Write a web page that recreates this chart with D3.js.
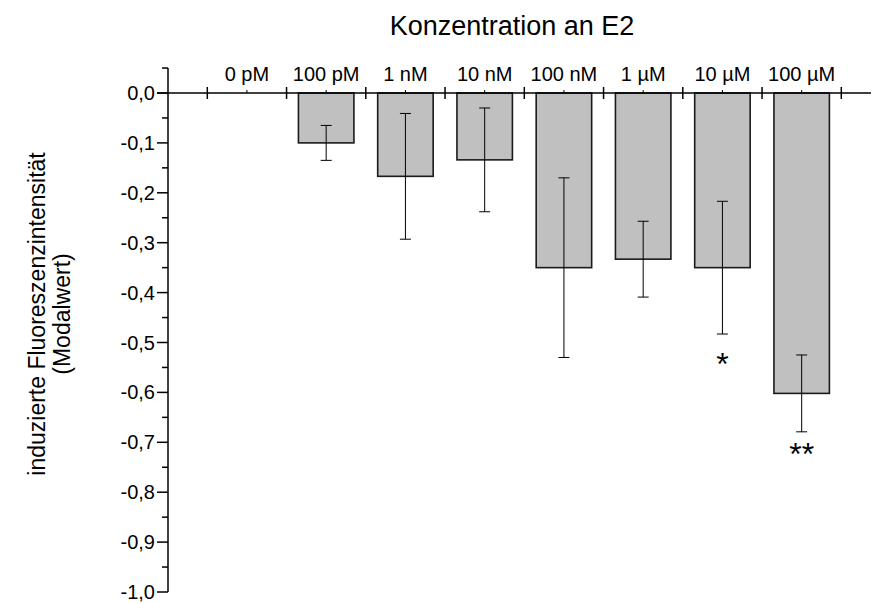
<!DOCTYPE html>
<html>
<head>
<meta charset="utf-8">
<script src="https://cdn.jsdelivr.net/npm/d3@7"></script>
<style>
	body { margin: 0; background: #fff; }
	svg text { font-family: "Liberation Sans", Arial, sans-serif; fill: #000; }
</style>
</head>
<body>
<svg id="chart" width="872" height="603"></svg>
<script>
;( function() {

	"use strict";

	//data
	var categories = [ "0 pM", "100 pM", "1 nM", "10 nM", "100 nM", "1 µM", "10 µM", "100 µM" ],
		means = [ 0, -0.100, -0.167, -0.134, -0.350, -0.333, -0.350, -0.602 ],
		errors = [ 0, 0.035, 0.126, 0.104, 0.180, 0.076, 0.133, 0.077 ],
		significance = [ "", "", "", "", "", "", "*", "**" ],
		significanceAt = [ 0, 0, 0, 0, 0, 0, -0.528, -0.709 ],
		yTickValues = [ 0, -0.1, -0.2, -0.3, -0.4, -0.5, -0.6, -0.7, -0.8, -0.9, -1.0 ],
		yMinorValues = [ 0.05, -0.05, -0.15, -0.25, -0.35, -0.45, -0.55, -0.65, -0.75, -0.85, -0.95 ];

	var title = "Konzentration an E2",
		yLabel = [ "induzierte Fluoreszenzintensität", "(Modalwert)" ];

	var svg = d3.select( "#chart" ),
		axisX = 168,
		fmt = function( d ) { return d3.format( ".1f" )( d ).replace( ".", "," ).replace( "−", "-" ); };

	var x = d3.scaleBand()
		.domain( categories )
		.range( [ 207.3, 841.3 ] )
		.paddingInner( 0.3 )
		.paddingOuter( 0.15 );

	var y = d3.scaleLinear()
		.domain( [ 0, -1 ] )
		.range( [ 93, 592 ] );

	var step = x.step(),
		x0 = x.range()[ 0 ];

	//bars
	var data = categories.map( function( c, i ) {
		return { cat: c, mean: means[ i ], err: errors[ i ], sig: significance[ i ], sigAt: significanceAt[ i ] };
	} ).filter( function( d ) { return d.mean !== 0; } );

	svg.append( "g" ).selectAll( "rect" ).data( data ).enter()
		.append( "rect" )
			.attr( "x", function( d ) { return x( d.cat ); } )
			.attr( "y", y( 0 ) )
			.attr( "width", x.bandwidth() )
			.attr( "height", function( d ) { return y( d.mean ) - y( 0 ); } )
			.style( "fill", "#c0c0c0" )
			.style( "stroke", "#1a1a1a" )
			.style( "stroke-width", 1.6 );

	//error bars
	var eb = svg.append( "g" ).selectAll( "g" ).data( data ).enter()
		.append( "g" )
			.attr( "transform", function( d ) { return "translate(" + ( x( d.cat ) + x.bandwidth() / 2 ) + ",0)"; } )
			.style( "stroke", "#000" )
			.style( "stroke-width", 1 );
	eb.append( "line" )
		.attr( "x1", 0 ).attr( "x2", 0 )
		.attr( "y1", function( d ) { return y( d.mean + d.err ); } )
		.attr( "y2", function( d ) { return y( d.mean - d.err ); } );
	eb.append( "line" )
		.attr( "x1", -5.5 ).attr( "x2", 5.5 )
		.attr( "y1", function( d ) { return y( d.mean + d.err ); } )
		.attr( "y2", function( d ) { return y( d.mean + d.err ); } );
	eb.append( "line" )
		.attr( "x1", -5.5 ).attr( "x2", 5.5 )
		.attr( "y1", function( d ) { return y( d.mean - d.err ); } )
		.attr( "y2", function( d ) { return y( d.mean - d.err ); } );

	//significance stars (asterisk centre sits ~0.58em above baseline)
	svg.append( "g" ).selectAll( "text" ).data( data.filter( function( d ) { return d.sig; } ) ).enter()
		.append( "text" )
			.attr( "x", function( d ) { return x( d.cat ) + x.bandwidth() / 2; } )
			.attr( "y", function( d ) { return y( d.sigAt ); } )
			.attr( "dy", "0.58em" )
			.attr( "text-anchor", "middle" )
			.style( "font-size", "32px" )
			.text( function( d ) { return d.sig; } );

	//x axis (top, at zero)
	var gx = svg.append( "g" ).style( "stroke", "#000" );
	gx.append( "line" )
		.attr( "x1", axisX - 11 ).attr( "x2", 871 )
		.attr( "y1", y( 0 ) ).attr( "y2", y( 0 ) )
		.style( "stroke-width", 1.5 );
	gx.selectAll( ".major" ).data( d3.range( categories.length + 1 ) ).enter()
		.append( "line" )
			.attr( "class", "major" )
			.attr( "x1", function( i ) { return x0 + i * step; } )
			.attr( "x2", function( i ) { return x0 + i * step; } )
			.attr( "y1", y( 0 ) - 6 ).attr( "y2", y( 0 ) + 6 )
			.style( "stroke-width", 1.5 );
	gx.selectAll( ".minor" ).data( categories ).enter()
		.append( "line" )
			.attr( "class", "minor" )
			.attr( "x1", function( d ) { return x( d ) + x.bandwidth() / 2; } )
			.attr( "x2", function( d ) { return x( d ) + x.bandwidth() / 2; } )
			.attr( "y1", y( 0 ) - 3 ).attr( "y2", y( 0 ) )
			.style( "stroke-width", 1 );
	svg.append( "g" ).selectAll( "text" ).data( categories ).enter()
		.append( "text" )
			.attr( "x", function( d ) { return x( d ) + x.bandwidth() / 2; } )
			.attr( "y", 81 )
			.attr( "text-anchor", "middle" )
			.style( "font-size", "20px" )
			.text( function( d ) { return d; } );

	//y axis
	var gy = svg.append( "g" ).style( "stroke", "#000" );
	gy.append( "line" )
		.attr( "x1", axisX ).attr( "x2", axisX )
		.attr( "y1", y( 0.05 ) ).attr( "y2", y( -1 ) )
		.style( "stroke-width", 1.5 );
	gy.selectAll( ".major" ).data( yTickValues ).enter()
		.append( "line" )
			.attr( "x1", axisX - 11 ).attr( "x2", axisX )
			.attr( "y1", function( d ) { return y( d ); } )
			.attr( "y2", function( d ) { return y( d ); } )
			.style( "stroke-width", 1.5 );
	gy.selectAll( ".minor" ).data( yMinorValues ).enter()
		.append( "line" )
			.attr( "x1", axisX - 6 ).attr( "x2", axisX )
			.attr( "y1", function( d ) { return y( d ); } )
			.attr( "y2", function( d ) { return y( d ); } )
			.style( "stroke-width", 1.5 );
	svg.append( "g" ).selectAll( "text" ).data( yTickValues ).enter()
		.append( "text" )
			.attr( "x", axisX - 13 )
			.attr( "y", function( d ) { return y( d ); } )
			.attr( "dy", "0.35em" )
			.attr( "text-anchor", "end" )
			.style( "font-size", "20px" )
			.text( fmt );

	//title
	svg.append( "text" )
		.attr( "x", 512 )
		.attr( "y", 35 )
		.attr( "text-anchor", "middle" )
		.style( "font-size", "27px" )
		.text( title );

	//y label
	svg.append( "g" ).selectAll( "text" ).data( yLabel ).enter()
		.append( "text" )
			.attr( "transform", function( d, i ) { return "translate(" + ( 45 + i * 25 ) + ",314) rotate(-90)"; } )
			.attr( "text-anchor", "middle" )
			.style( "font-size", "23px" )
			.text( function( d ) { return d; } );

} )();
</script>
</body>
</html>
